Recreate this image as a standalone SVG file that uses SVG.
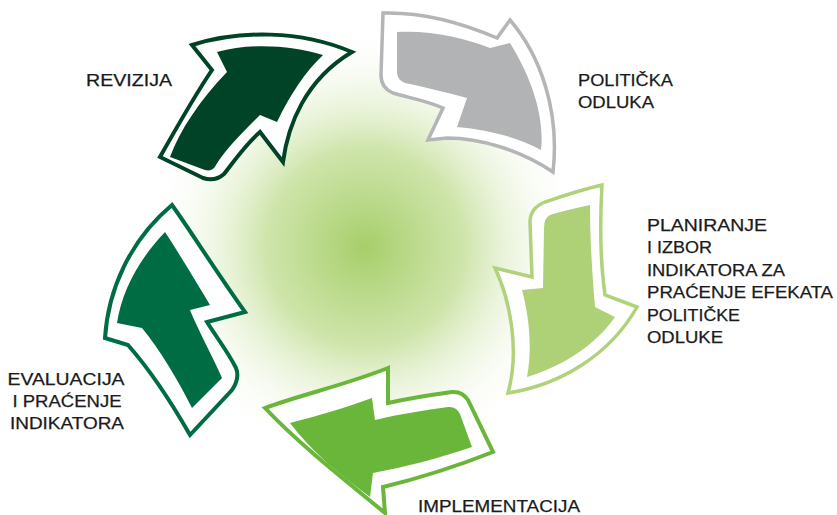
<svg xmlns="http://www.w3.org/2000/svg" width="837" height="515" viewBox="0 0 837 515">
<defs>
<radialGradient id="glow" cx="365" cy="247" r="220" gradientUnits="userSpaceOnUse">
<stop offset="0" stop-color="#a6ce69" stop-opacity="1"/>
<stop offset="0.45" stop-color="#c6e09c" stop-opacity="0.85"/>
<stop offset="1" stop-color="#ffffff" stop-opacity="0"/>
</radialGradient>
<style>
.out{fill:#ffffff;stroke-linejoin:miter;stroke-miterlimit:10}
.lbl{font-family:"Liberation Sans",Arial,sans-serif;font-size:17px;fill:#1a1a1a;stroke:#1a1a1a;stroke-width:0.25}
</style>
</defs>
<rect width="837" height="515" fill="#ffffff"/>
<circle cx="365" cy="247" r="220" fill="url(#glow)"/>
<g id="revizija">
<path class="out" stroke="#004326" stroke-width="4" d="M192,45 L212,70 C195,95 178,125 160,157 L203,178 Q215,182 224,174 C235,160 245,145 260,132 L283,162 C288,125 305,80 352,52 C300,30 240,30 192,45 Z"/>
<path fill="#004326" d="M217,52 C250,43 290,45 323,55 C305,72 290,95 277,122 L260,115 C240,135 225,150 216,165 Q213,172 205,170 L170,157 C180,130 200,100 227,72 Z"/>
<text class="lbl" x="86" y="86" textLength="86" lengthAdjust="spacingAndGlyphs">REVIZIJA</text>
</g>
<g id="politicka">
<path class="out" stroke="#b3b5b6" stroke-width="3.5" d="M383,13 C420,12 460,22 497,38 L510,20 C540,55 560,110 553,172 C520,150 480,138 447,138 L428,140 L443,108 C425,100 405,97 393,93 Q381,88 381,75 L383,13 Z"/>
<path fill="#b1b3b4" d="M397,32 C430,30 465,38 490,48 L510,43 C530,75 545,115 541,150 C520,138 490,130 457,127 L467,98 C445,92 420,86 405,83 Q397,80 397,72 Z"/>
<text class="lbl" x="578" y="86" textLength="95" lengthAdjust="spacingAndGlyphs">POLITIČKA</text>
<text class="lbl" x="578" y="108" textLength="76" lengthAdjust="spacingAndGlyphs">ODLUKA</text>
</g>
<g id="planiranje">
<path class="out" stroke="#b0d27b" stroke-width="3.5" d="M602,185 C580,190 560,197 545,202 Q530,208 530,222 L532,277 L495,268 C510,300 520,350 508,393 C560,385 610,355 637,307 L605,295 C600,260 600,220 602,185 Z"/>
<path fill="#aed077" d="M590,205 C575,208 560,212 550,215 Q544,218 544,228 L543,288 L522,290 C530,320 532,350 527,377 C565,365 595,345 615,317 L595,307 C592,270 590,240 590,205 Z"/>
<text class="lbl" x="647" y="231" textLength="120" lengthAdjust="spacingAndGlyphs">PLANIRANJE</text>
<text class="lbl" x="647" y="253" textLength="65" lengthAdjust="spacingAndGlyphs">I IZBOR</text>
<text class="lbl" x="647" y="276" textLength="138" lengthAdjust="spacingAndGlyphs">INDIKATORA ZA</text>
<text class="lbl" x="647" y="298" textLength="186" lengthAdjust="spacingAndGlyphs">PRAĆENJE EFEKATA</text>
<text class="lbl" x="647" y="321" textLength="93" lengthAdjust="spacingAndGlyphs">POLITIČKE</text>
<text class="lbl" x="647" y="343" textLength="76" lengthAdjust="spacingAndGlyphs">ODLUKE</text>
</g>
<g id="implementacija">
<path class="out" stroke="#6ab63b" stroke-width="4" d="M265,408 C300,395 345,385 388,368 L388,403 C410,398 430,395 452,392 Q462,391 468,400 L493,452 C460,465 420,478 383,487 L385,513 C345,480 300,445 265,408 Z"/>
<path fill="#6ab63b" d="M290,423 C320,415 345,408 372,398 L375,420 C400,414 425,410 448,407 Q456,406 460,414 L472,447 C440,458 405,467 373,473 L370,497 C340,475 310,450 290,423 Z"/>
<text class="lbl" x="418" y="512" textLength="162" lengthAdjust="spacingAndGlyphs">IMPLEMENTACIJA</text>
</g>
<g id="evaluacija">
<path class="out" stroke="#006c43" stroke-width="4" d="M172,205 C190,230 215,270 245,312 L207,322 C215,335 228,352 236,368 Q240,378 232,390 L190,435 C170,400 150,370 128,345 L105,338 C108,290 130,240 172,205 Z"/>
<path fill="#006c43" d="M165,232 C180,255 195,280 210,305 L190,310 C198,330 212,355 222,378 L192,408 C178,380 160,350 142,328 L117,323 C122,290 140,258 165,232 Z"/>
<text class="lbl" x="66" y="385" text-anchor="middle" textLength="117" lengthAdjust="spacingAndGlyphs">EVALUACIJA</text>
<text class="lbl" x="67" y="407" text-anchor="middle" textLength="109" lengthAdjust="spacingAndGlyphs">I PRAĆENJE</text>
<text class="lbl" x="67" y="429" text-anchor="middle" textLength="114" lengthAdjust="spacingAndGlyphs">INDIKATORA</text>
</g>
<g id="connectors"></g>
</svg>
